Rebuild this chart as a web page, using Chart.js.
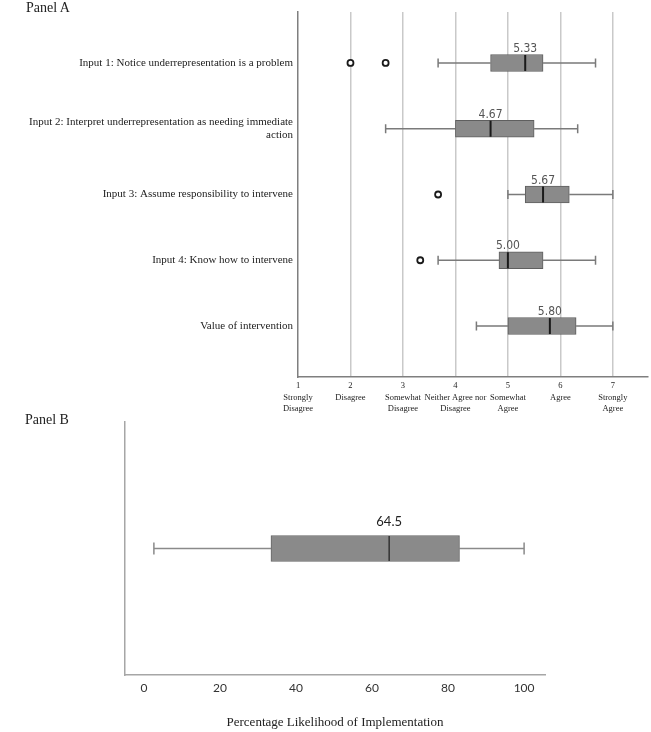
<!DOCTYPE html>
<html><head><meta charset="utf-8">
<script src="https://cdn.jsdelivr.net/npm/chart.js@4.4.1/dist/chart.umd.min.js"></script>
<style>
html,body{margin:0;padding:0;background:#fff;width:651px;height:732px;overflow:hidden;}
#a{position:absolute;left:0;top:0;}
#b{position:absolute;left:0;top:420px;}
.panel{position:absolute;font-family:"Liberation Serif","Times New Roman",serif;font-size:14px;color:#222;line-height:16px;white-space:nowrap;}
</style></head><body>
<canvas id="a" width="651" height="425"></canvas>
<canvas id="b" width="651" height="312"></canvas>
<div class="panel" style="left:26px;top:0px;">Panel A</div>
<div class="panel" style="left:25px;top:412px;">Panel B</div>
<script>
// ---------- Panel A data ----------
const rowCategories = [
  'Input 1: Notice underrepresentation is a problem',
  ['Input 2: Interpret underrepresentation as needing immediate', 'action'],
  'Input 3: Assume responsibility to intervene',
  'Input 4: Know how to intervene',
  'Value of intervention'
];
const rowPositions = [1, 2, 3, 4, 5];
const likertTicks = [1, 2, 3, 4, 5, 6, 7];
const likertTickLabels = [
  ['1', 'Strongly', 'Disagree'],
  ['2', 'Disagree'],
  ['3', 'Somewhat', 'Disagree'],
  ['4', 'Neither Agree nor', 'Disagree'],
  ['5', 'Somewhat', 'Agree'],
  ['6', 'Agree'],
  ['7', 'Strongly', 'Agree']
];
const whiskerLowA  = [3.67, 2.67, 5.00, 3.67, 4.40];
const q1A          = [4.67, 4.00, 5.33, 4.83, 5.00];
const medianA      = [5.33, 4.67, 5.67, 5.00, 5.80];
const q3A          = [5.67, 5.50, 6.17, 5.67, 6.30];
const whiskerHighA = [6.67, 6.33, 7.00, 6.67, 7.00];
const medianLabelsA = ['5.33', '4.67', '5.67', '5.00', '5.80'];
const outlierRowsA   = [1, 1, 3, 4];
const outlierValuesA = [2.00, 2.67, 3.67, 3.33];

// ---------- Panel B data ----------
const implTicks = [0, 20, 40, 60, 80, 100];
const rowPositionsB = [1];
const whiskerLowB  = [2.6];
const q1B          = [33.4];
const medianB      = [64.5];
const q3B          = [83.0];
const whiskerHighB = [100];
const medianLabelsB = ['64.5'];

function makeBoxPlugin(cfg) {
  return {
    id: 'box_' + cfg.name,
    beforeDatasetsDraw(chart) {
      const ctx = chart.ctx, xs = chart.scales.x, ys = chart.scales.y;
      ctx.save();
      ctx.strokeStyle = cfg.whiskerColor;
      ctx.lineWidth = cfg.whiskerWidth;
      cfg.rows.forEach((r, i) => {
        const py = ys.getPixelForValue(r);
        const pl = xs.getPixelForValue(cfg.low[i]);
        const p1 = xs.getPixelForValue(cfg.q1[i]);
        const p3 = xs.getPixelForValue(cfg.q3[i]);
        const ph = xs.getPixelForValue(cfg.high[i]);
        const h = cfg.capHeight / 2;
        ctx.beginPath();
        ctx.moveTo(pl, py); ctx.lineTo(p1, py);
        ctx.moveTo(p3, py); ctx.lineTo(ph, py);
        ctx.moveTo(pl, py - h); ctx.lineTo(pl, py + h);
        ctx.moveTo(ph, py - h); ctx.lineTo(ph, py + h);
        ctx.stroke();
      });
      ctx.restore();
    },
    afterDatasetsDraw(chart) {
      const ctx = chart.ctx, xs = chart.scales.x, ys = chart.scales.y;
      ctx.save();
      cfg.rows.forEach((r, i) => {
        const py = ys.getPixelForValue(r);
        const pm = xs.getPixelForValue(cfg.median[i]);
        const t = cfg.thickness / 2;
        ctx.strokeStyle = cfg.medianColor;
        ctx.lineWidth = cfg.medianWidth;
        ctx.beginPath();
        ctx.moveTo(pm, py - t + 0.5); ctx.lineTo(pm, py + t - 0.5);
        ctx.stroke();
        ctx.fillStyle = cfg.labelColor;
        ctx.font = cfg.labelFont;
        ctx.textAlign = 'center';
        ctx.textBaseline = 'alphabetic';
        ctx.fillText(cfg.labels[i], pm, py - t - cfg.labelGap);
      });
      ctx.restore();
    }
  };
}

// ---------- Panel A chart ----------
new Chart(document.getElementById('a'), {
  type: 'bar',
  data: {
    datasets: [
      {
        type: 'bar', indexAxis: 'y',
        data: rowPositions.map((r, i) => ({ y: r, x: [q1A[i], q3A[i]] })),
        backgroundColor: '#8a8a8a', borderColor: '#5f5f5f', borderWidth: 1,
        borderSkipped: false, barThickness: 17, grouped: false
      },
      {
        type: 'scatter',
        data: outlierRowsA.map((r, i) => ({ x: outlierValuesA[i], y: r })),
        pointRadius: 3, pointBorderWidth: 1.8, pointBorderColor: '#1a1a1a',
        pointBackgroundColor: '#ffffff', showLine: false
      }
    ]
  },
  options: {
    responsive: false, animation: false, indexAxis: 'y',
    layout: { autoPadding: false, padding: { top: 12, right: 3, left: 0, bottom: 0 } },
    plugins: { legend: { display: false }, tooltip: { enabled: false } },
    scales: {
      x: {
        type: 'linear', position: 'bottom', min: 1, max: 7.67, offset: false,
        afterBuildTicks: s => { s.ticks = likertTicks.map(v => ({ value: v })); },
        afterFit: s => { s.height = 48; s.paddingLeft = 0; s.paddingRight = 0; },
        grid: { color: c => (c.tick && c.tick.value === 1) ? 'rgba(0,0,0,0)' : '#c9c9c9', lineWidth: 1.5, drawTicks: false, offset: false },
        border: { color: '#7f7f7f', width: 1.5 },
        ticks: {
          autoSkip: false, maxRotation: 0, padding: 3, color: '#222',
          font: { family: '"Liberation Serif", serif', size: 8.5, lineHeight: 1.36 },
          callback: (v, i) => likertTickLabels[i]
        }
      },
      y: {
        type: 'linear', position: 'left', reverse: true, min: 0.225, max: 5.775, offset: false,
        afterBuildTicks: s => { s.ticks = rowPositions.map(v => ({ value: v })); },
        afterFit: s => { s.width = 298; s.paddingTop = 0; s.paddingBottom = 0; },
        grid: { display: false, drawTicks: false, offset: false },
        border: { color: '#7f7f7f', width: 1.5 },
        ticks: {
          autoSkip: false, padding: 5, color: '#222',
          font: { family: '"Liberation Serif", serif', size: 11, lineHeight: 1.15 },
          callback: (v, i) => rowCategories[i]
        }
      }
    }
  },
  plugins: [makeBoxPlugin({
    name: 'a', rows: rowPositions, low: whiskerLowA, q1: q1A, median: medianA, q3: q3A, high: whiskerHighA,
    labels: medianLabelsA, thickness: 17, capHeight: 9, whiskerColor: '#7a7a7a', whiskerWidth: 1.5,
    medianColor: '#1a1a1a', medianWidth: 2, labelColor: '#555',
    labelFont: '12px "Liberation Sans Narrow", "DejaVu Sans Condensed", Lato, sans-serif', labelGap: 2.5
  })]
});

// ---------- Panel B chart ----------
new Chart(document.getElementById('b'), {
  type: 'bar',
  data: {
    datasets: [{
      type: 'bar', indexAxis: 'y',
      data: rowPositionsB.map((r, i) => ({ y: r, x: [q1B[i], q3B[i]] })),
      backgroundColor: '#8a8a8a', borderColor: '#666666', borderWidth: 1,
      borderSkipped: false, barThickness: 26, grouped: false
    }]
  },
  options: {
    responsive: false, animation: false, indexAxis: 'y',
    layout: { autoPadding: false, padding: { top: 2, right: 106, left: 0, bottom: 0 } },
    plugins: { legend: { display: false }, tooltip: { enabled: false } },
    scales: {
      x: {
        type: 'linear', position: 'bottom', min: -5, max: 105.5, offset: false,
        afterBuildTicks: s => { s.ticks = implTicks.map(v => ({ value: v })); },
        afterFit: s => { s.height = 57; },
        grid: { display: false, drawTicks: false },
        border: { color: '#a6a6a6', width: 1.5 },
        ticks: {
          autoSkip: false, maxRotation: 0, padding: 6, color: '#333',
          font: { family: 'Lato, "Open Sans", sans-serif', size: 12 },
          callback: v => String(v)
        },
        title: {
          display: true, text: 'Percentage Likelihood of Implementation', color: '#222',
          font: { family: '"Liberation Serif", serif', size: 13 },
          padding: { top: 0, bottom: 2 }
        }
      },
      y: {
        type: 'linear', position: 'left', min: 0, max: 2, offset: false,
        afterBuildTicks: s => { s.ticks = []; },
        afterFit: s => { s.width = 125; },
        grid: { display: false, drawTicks: false, offset: false },
        border: { color: '#a6a6a6', width: 1.5 },
        ticks: { display: false }
      }
    }
  },
  plugins: [makeBoxPlugin({
    name: 'b', rows: rowPositionsB, low: whiskerLowB, q1: q1B, median: medianB, q3: q3B, high: whiskerHighB,
    labels: medianLabelsB, thickness: 26, capHeight: 12, whiskerColor: '#8a8a8a', whiskerWidth: 1.5,
    medianColor: '#333333', medianWidth: 1.5, labelColor: '#222',
    labelFont: '13px Lato, "Open Sans", sans-serif', labelGap: 10
  })]
});
</script>
</body></html>
